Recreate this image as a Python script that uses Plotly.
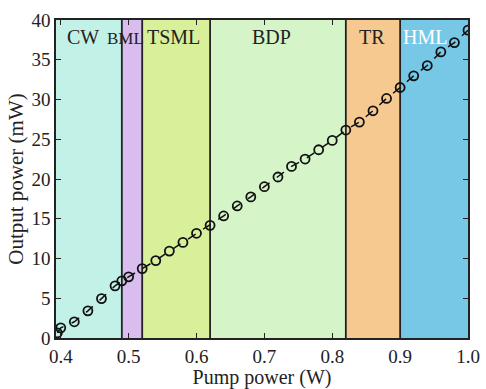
import plotly.graph_objects as go

# Data
pump = [0.395, 0.40, 0.42, 0.44, 0.46, 0.48, 0.49, 0.50, 0.52, 0.54, 0.56, 0.58, 0.60,
        0.62, 0.64, 0.66, 0.68, 0.70, 0.72, 0.74, 0.76, 0.78, 0.80, 0.82, 0.84,
        0.86, 0.88, 0.90, 0.92, 0.94, 0.96, 0.98, 1.00]
output = [0.65, 1.28, 2.04, 3.42, 4.96, 6.56, 7.19, 7.69, 8.73, 9.74, 10.93, 12.02, 13.17,
          14.17, 15.35, 16.61, 17.75, 19.03, 20.25, 21.58, 22.51, 23.68, 24.85, 26.16, 27.16,
          28.58, 30.13, 31.51, 32.98, 34.27, 35.99, 37.16, 38.72]

region_names = ["CW", "BML", "TSML", "BDP", "TR", "HML"]
region_starts = [0.393, 0.49, 0.52, 0.62, 0.82, 0.90]
region_ends = [0.49, 0.52, 0.62, 0.82, 0.90, 1.00]
region_colors = ["#c2f1e8", "#d9bdee", "#d9f09b", "#d5f5c9", "#f5c98f", "#76c8e6"]
label_x = [0.433, 0.4955, 0.5245, 0.711, 0.858, 0.902]
label_anchor = ["center", "center", "left", "center", "center", "left"]
label_sizes = [20, 17, 20, 20, 20, 20]
label_colors = ["#222222", "#222222", "#222222", "#222222", "#222222", "#ffffff"]

x_range = [0.393, 1.0]
y_range = [0, 40]

fig = go.Figure()

shapes = []
for s, e, c in zip(region_starts, region_ends, region_colors):
    shapes.append(dict(type="rect", xref="x", yref="y", x0=s, x1=e, y0=y_range[0], y1=y_range[1],
                       fillcolor=c, line=dict(width=0), layer="below"))
for e in region_ends[:-1]:
    shapes.append(dict(type="line", xref="x", yref="y", x0=e, x1=e, y0=y_range[0], y1=y_range[1],
                       line=dict(color="#222222", width=1.8), layer="below"))

fig.add_trace(go.Scatter(
    x=pump, y=output, mode="lines+markers",
    line=dict(color="#111111", width=1.5, dash="dash"),
    marker=dict(symbol="circle-open", size=9, color="#111111", line=dict(width=1.8)),
    showlegend=False,
))

annotations = []
for name, lx, anc, sz, col in zip(region_names, label_x, label_anchor, label_sizes, label_colors):
    annotations.append(dict(x=lx, y=36.2, xref="x", yref="y", text=name, showarrow=False,
                            xanchor=anc, yanchor="bottom",
                            font=dict(family="Liberation Serif", size=sz, color=col)))

fig.update_layout(
    width=486, height=389,
    margin=dict(l=56, r=18, t=20, b=51),
    paper_bgcolor="white", plot_bgcolor="white",
    shapes=shapes, annotations=annotations,
    font=dict(family="Liberation Serif", size=20, color="#222222"),
    xaxis=dict(range=x_range, tickvals=[0.4, 0.5, 0.6, 0.7, 0.8, 0.9, 1.0],
               ticktext=["0.4", "0.5", "0.6", "0.7", "0.8", "0.9", "1.0"],
               tickfont=dict(size=19),
               showgrid=False, zeroline=False, showline=True, mirror="ticks",
               linecolor="#222222", linewidth=1.5, ticks="inside", ticklen=5,
               tickcolor="#222222", automargin=False, ticklabelstandoff=0,
               title=dict(text="Pump power (W)", font=dict(size=20), standoff=4)),
    yaxis=dict(range=y_range, tickvals=[0, 5, 10, 15, 20, 25, 30, 35, 40],
               tickfont=dict(size=19),
               showgrid=False, zeroline=False, showline=True, mirror="ticks",
               linecolor="#222222", linewidth=1.5, ticks="inside", ticklen=5,
               tickcolor="#222222", automargin=False,
               title=dict(text="Output power (mW)", font=dict(size=21), standoff=2)),
)

fig.write_html("out.html")
